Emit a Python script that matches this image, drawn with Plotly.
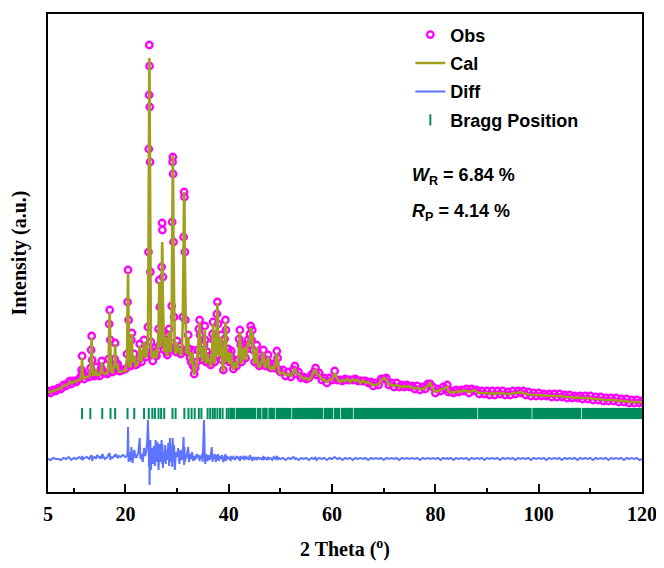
import plotly.graph_objects as go

# ---- data (intensity in arbitrary units) ----
two_theta = [
    5.0, 5.5, 6.0, 6.5, 7.0, 7.5, 8.0, 8.5, 9.0, 9.3, 9.5, 10.0, 10.5, 11.0, 11.4, 11.5, 11.6, 11.7, 12.0, 12.5,
    13.0, 13.25, 13.35, 13.45, 13.55, 13.7, 14.0, 14.3, 14.5, 15.0, 15.3, 15.4, 15.5, 16.0, 16.5, 16.75, 16.85, 16.95, 17.05, 17.2,
    17.5, 17.9, 18.0, 18.1, 18.5, 18.7, 19.0, 19.5, 20.0, 20.3, 20.4, 20.5, 20.6, 20.75, 21.0, 21.15, 21.25, 21.35, 21.7, 22.0,
    22.25, 22.5, 22.75, 22.9, 23.1, 23.35, 23.6, 23.8, 24.0, 24.2, 24.35, 24.45, 24.52, 24.58, 24.62, 24.66, 24.7, 24.75, 24.82, 24.92,
    25.1, 25.3, 25.5, 25.7, 25.85, 26.0, 26.2, 26.4, 26.55, 26.65, 26.75, 26.9, 27.0, 27.1, 27.15, 27.25, 27.35, 27.5, 27.7, 27.8,
    27.95, 28.1, 28.3, 28.45, 28.6, 28.8, 28.95, 29.05, 29.12, 29.17, 29.22, 29.3, 29.4, 29.55, 29.8, 30.0, 30.2, 30.45, 30.7, 30.9,
    31.1, 31.25, 31.35, 31.42, 31.5, 31.6, 31.75, 31.95, 32.15, 32.3, 32.5, 32.7, 32.9, 33.1, 33.3, 33.5, 33.8, 34.0, 34.2, 34.35,
    34.45, 34.6, 34.8, 34.95, 35.2, 35.35, 35.45, 35.6, 35.85, 36.05, 36.3, 36.5, 36.7, 36.85, 36.95, 37.05, 37.25, 37.5, 37.7, 37.8,
    37.9, 38.05, 38.3, 38.55, 38.7, 38.95, 39.2, 39.35, 39.45, 39.6, 39.9, 40.1, 40.35, 40.5, 40.65, 40.9, 41.2, 41.5, 41.8, 42.0,
    42.15, 42.3, 42.5, 42.8, 43.05, 43.25, 43.5, 43.7, 43.9, 44.1, 44.25, 44.4, 44.55, 44.7, 45.0, 45.2, 45.4, 45.6, 45.9, 46.2,
    46.5, 46.7, 46.85, 47.1, 47.4, 47.6, 47.8, 48.1, 48.4, 48.7, 49.0, 49.3, 49.45, 49.7, 50.0,
    50.5, 51.0, 51.5, 52.0, 52.5, 52.8, 53.0, 53.5, 54.0, 54.5, 55.0, 55.5, 56.0, 56.5, 56.8, 57.0, 57.5, 58.0, 58.5, 59.0,
    59.5, 60.0, 60.5, 61.0, 61.5, 62.0, 62.5, 63.0, 63.5, 64.0, 64.5, 65.0, 65.5, 66.0, 66.5, 67.0, 67.5, 68.0, 68.5, 69.0,
    69.5, 70.0, 70.5, 71.0, 71.5, 72.0, 72.5, 73.0, 73.5, 74.0, 74.5, 75.0, 75.5, 76.0, 76.5, 77.0, 77.5, 78.0, 78.5, 79.0,
    79.5, 80.0, 80.5, 81.0, 81.5, 82.0, 82.3, 82.5, 83.0, 83.5, 84.0, 84.5, 85.0, 85.5, 86.0, 86.5, 87.0, 87.5, 88.0, 88.5,
    89.0, 89.5, 90.0, 90.5, 91.0, 91.5, 92.0, 92.5, 93.0, 93.5, 94.0, 94.5, 95.0, 95.5, 96.0, 96.5, 97.0, 97.5, 98.0, 98.5,
    99.0, 99.5, 100.0, 100.5, 101.0, 101.5, 102.0, 102.5, 103.0, 103.5, 104.0, 104.5, 105.0, 105.5, 106.0, 106.5, 107.0, 107.5, 108.0, 108.5,
    109.0, 109.5, 110.0, 110.5, 111.0, 111.5, 112.0, 112.5, 113.0, 113.5, 114.0, 114.5, 115.0, 115.5, 116.0, 116.5, 117.0, 117.5, 118.0, 118.5,
    119.0, 119.5, 120.0,
]

cal = [
    100, 100, 101, 102, 103, 104, 106, 107, 108, 110, 109, 110, 111, 112, 113, 120, 134, 118, 114, 115,
    116, 122, 140, 154, 130, 117, 117, 123, 117, 117, 122, 130, 120, 118, 119, 130, 165, 180, 150, 121,
    119, 130, 148, 125, 126, 120, 120, 121, 121, 135, 185, 219, 170, 126, 125, 150, 158, 130, 136, 126,
    127, 130, 146, 135, 131, 140, 150, 136, 134, 142, 160, 230, 330, 400, 434, 420, 370, 300, 200, 145,
    136, 133, 138, 142, 135, 134, 140, 160, 210, 180, 145, 150, 200, 250, 240, 190, 150, 140, 148, 155,
    138, 136, 150, 160, 142, 140, 180, 260, 320, 337, 310, 240, 170, 142, 138, 149, 140, 144, 136, 140,
    170, 250, 300, 290, 230, 170, 140, 138, 155, 140, 132, 128, 140, 125, 117, 122, 128, 140, 160, 170,
    155, 134, 145, 130, 145, 163, 150, 128, 138, 130, 134, 125, 135, 155, 168, 150, 128, 140, 175, 189,
    165, 135, 145, 155, 130, 120, 150, 170, 160, 130, 140, 128, 135, 139, 128, 122, 130, 124, 130, 150,
    160, 145, 128, 140, 145, 132, 140, 150, 145, 155, 164, 150, 160, 140, 128, 138, 145, 128, 124, 128,
    132, 140, 130, 124, 130, 135, 125, 122, 126, 122, 126, 139, 132, 120, 118,
    120, 117, 118, 116, 120, 124, 119, 118, 115, 113, 114, 112, 115, 121, 122, 118, 117, 113, 112, 110,
    112, 113, 119, 113, 110, 112, 111, 113, 110, 113, 111, 112, 109, 112, 109, 110, 108, 107, 107, 108,
    111, 114, 112, 108, 107, 106, 107, 106, 105, 106, 105, 106, 104, 104, 104, 103, 103, 104, 106, 109,
    103, 100, 101, 102, 103, 104, 105, 101, 99, 100, 100, 101, 100, 102, 101, 100, 101, 102, 100, 99,
    99, 99, 99, 98, 99, 98, 99, 99, 99, 98, 98, 98, 99, 99, 99, 100, 99, 98, 98, 97,
    97, 97, 97, 97, 96, 97, 96, 96, 96, 96, 96, 96, 95, 95, 95, 95, 94, 95, 94, 94,
    94, 94, 94, 93, 93, 93, 93, 92, 92, 92, 92, 92, 92, 91, 91, 91, 91, 90, 90, 90,
    90, 90, 90,
]

obs = [
    101, 99, 102, 101, 104, 103, 107, 106, 110, 111, 108, 111, 110, 113, 116, 122, 136, 120, 113, 116,
    115, 124, 142, 156, 132, 118, 116, 125, 118, 116, 124, 131, 121, 119, 118, 133, 168, 182, 152, 122,
    120, 133, 149, 127, 128, 121, 121, 122, 123, 138, 190, 222, 172, 128, 126, 152, 159, 132, 138, 127,
    128, 132, 148, 137, 130, 143, 152, 138, 135, 145, 165, 240, 343, 397, 447, 426, 385, 330, 220, 150,
    138, 131, 140, 144, 137, 136, 142, 163, 212, 185, 148, 160, 225, 269, 262, 215, 160, 142, 151, 158,
    140, 137, 152, 163, 144, 143, 186, 270, 330, 335, 318, 250, 175, 145, 140, 151, 142, 146, 138, 142,
    175, 255, 300, 295, 240, 172, 142, 140, 157, 143, 134, 130, 142, 126, 118, 124, 130, 142, 163, 172,
    157, 136, 148, 132, 147, 166, 152, 130, 140, 132, 136, 127, 137, 158, 170, 152, 130, 142, 178, 190,
    168, 137, 147, 157, 132, 122, 153, 172, 162, 132, 143, 130, 137, 141, 130, 123, 132, 126, 132, 153,
    162, 147, 130, 142, 147, 134, 143, 152, 147, 158, 166, 152, 162, 142, 130, 140, 147, 130, 126, 130,
    134, 142, 132, 126, 132, 137, 127, 124, 128, 124, 128, 141, 134, 122, 120,
    122, 116, 120, 115, 122, 126, 118, 120, 114, 115, 113, 114, 117, 120, 124, 117, 119, 112, 114, 109,
    114, 112, 121, 112, 112, 111, 113, 112, 112, 112, 113, 111, 111, 111, 111, 109, 110, 106, 109, 107,
    113, 113, 114, 107, 109, 105, 109, 105, 107, 105, 107, 105, 106, 103, 106, 102, 105, 103, 108, 108,
    105, 99, 103, 101, 105, 103, 107, 100, 101, 99, 102, 100, 102, 101, 103, 99, 103, 101, 102, 98,
    101, 98, 101, 97, 101, 97, 101, 98, 101, 97, 100, 97, 101, 98, 101, 99, 101, 97, 100, 96,
    99, 96, 99, 96, 98, 96, 98, 95, 98, 95, 98, 95, 97, 94, 97, 94, 96, 94, 96, 93,
    96, 93, 96, 92, 95, 92, 95, 91, 94, 91, 94, 91, 94, 90, 93, 90, 93, 89, 92, 89,
    92, 89, 91,
]

diff = [
    33, 32, 34, 33, 33, 32, 34, 33, 35, 33, 32, 34, 33, 35, 34, 33, 36, 32, 34, 35,
    33, 36, 34, 37, 31, 34, 35, 33, 37, 34, 36, 33, 38, 33, 35, 38, 36, 39, 32, 35,
    34, 37, 35, 38, 34, 36, 35, 37, 35, 36, 40, 65, 30, 40, 31, 45, 38, 29, 42, 34,
    36, 40, 54, 33, 38, 30, 44, 36, 40, 50, 72, 45, 60, 25, 48, 7, 40, 30, 52, 22,
    44, 28, 46, 26, 52, 30, 50, 22, 48, 35, 30, 45, 52, 28, 48, 24, 40, 30, 47, 28,
    42, 32, 49, 26, 54, 30, 46, 25, 54, 28, 44, 30, 47, 22, 40, 35, 44, 28, 42, 32,
    40, 55, 27, 45, 30, 38, 33, 40, 45, 30, 38, 33, 40, 31, 36, 32, 38, 34, 37, 31,
    36, 33, 38, 30, 72, 36, 28, 38, 31, 37, 32, 36, 45, 30, 36, 33, 38, 30, 37, 32,
    38, 31, 36, 33, 37, 30, 35, 38, 31, 36, 33, 35, 31, 36, 33, 35, 32, 36, 33, 35,
    31, 36, 33, 35, 32, 36, 33, 35, 32, 37, 33, 35, 31, 35, 33, 34, 32, 35, 33, 34,
    32, 36, 33, 34, 32, 35, 33, 34, 32, 35, 33, 36, 32, 34, 33,
    34, 32, 34, 33, 35, 33, 34, 32, 34, 33, 34, 32, 34, 33, 35, 32, 34, 33, 34, 32,
    34, 33, 35, 33, 34, 32, 34, 33, 34, 32, 34, 33, 34, 33, 34, 32, 34, 33, 34, 33,
    34, 32, 34, 33, 34, 33, 34, 32, 34, 33, 34, 33, 34, 33, 34, 32, 34, 33, 34, 33,
    34, 33, 34, 32, 34, 33, 34, 33, 34, 32, 34, 33, 34, 33, 34, 32, 34, 33, 34, 33,
    34, 32, 34, 33, 34, 33, 34, 32, 34, 33, 34, 33, 34, 32, 34, 33, 34, 33, 34, 32,
    34, 33, 34, 33, 34, 32, 34, 33, 34, 33, 34, 32, 34, 33, 34, 33, 34, 32, 34, 33,
    34, 33, 34, 32, 34, 33, 34, 33, 34, 32, 34, 33, 34, 33, 34, 32, 34, 33, 34, 33,
    34, 32, 33,
]

bragg_pos = [
    11.6, 13.2, 15.5, 17.1, 18.0, 20.4, 21.7, 23.6, 24.5, 25.2, 25.7, 26.4, 26.9, 27.5, 29.1, 29.7,
    31.4, 32.2, 32.8, 33.4, 34.2, 34.7, 35.9, 36.4, 36.9, 37.3, 37.8, 38.3, 38.8, 39.6, 40.0, 40.4,
    40.75, 41.75, 42.45, 43.15, 43.85, 44.5, 44.9, 45.9, 46.9, 47.1, 48.1, 48.5, 49.5, 50.2, 50.9, 51.7,
    52.7, 53.4, 54.1, 54.8, 55.5, 56.2, 56.9, 57.4, 57.8, 58.8, 59.3, 59.8, 60.8, 61.1, 62.1, 62.8,
    63.2, 63.6, 64.6, 65.3, 66.0, 66.7, 67.4, 68.1, 68.8, 69.5, 70.2, 70.9, 71.6, 72.3, 73.0, 73.7,
    74.4, 75.1, 75.8, 76.5, 77.2, 77.9, 78.6, 79.3, 80.0, 80.7, 81.4, 82.1, 82.8, 83.5, 84.2, 84.9,
    85.6, 86.3, 87.0, 87.7, 88.7, 89.4, 90.1, 90.8, 91.5, 92.2, 92.9, 93.6, 94.3, 95.0, 95.7, 96.4,
    97.1, 97.8, 98.2, 99.2, 99.9, 100.6, 101.3, 102.0, 102.7, 103.4, 104.1, 104.8, 105.5, 106.2, 106.9, 107.4,
    107.8, 108.8, 109.5, 110.2, 110.9, 111.6, 112.3, 113.0, 113.7, 114.4, 115.1, 115.8, 116.5, 117.2, 117.9, 118.6,
    119.3, 119.9,
]

x_ticks = [5, 20, 40, 60, 80, 100, 120]
x_minor_ticks = [10, 30, 50, 70, 90, 110]

# ---- styling ----
C_OBS = "#FF00FF"
C_CAL = "#A29E1E"
C_DIFF = "#5C74FF"
C_BRAGG = "#008C5E"
BRAGG_LEVEL = 78.5
DENSE_FROM = 40.5   # above this angle the reflections merge into a solid band
bragg_sparse = [p for p in bragg_pos if p < DENSE_FROM]
bragg_dense = [p for p in bragg_pos if p >= DENSE_FROM]

SERIF = "Liberation Serif, Times New Roman, serif"
SANS = "Liberation Sans, Arial, sans-serif"

fig = go.Figure()
fig.add_trace(go.Scatter(
    x=two_theta, y=obs, mode="markers", name="Obs", legendgroup="a",
    marker=dict(symbol="circle-open", size=6.5, color=C_OBS, line=dict(width=2.3, color=C_OBS)),
))
fig.add_trace(go.Scatter(
    x=two_theta, y=cal, mode="lines", name="Cal", legendgroup="b",
    line=dict(color=C_CAL, width=2.6),
))
fig.add_trace(go.Scatter(
    x=two_theta, y=diff, mode="lines", name="Diff", legendgroup="c",
    line=dict(color=C_DIFF, width=2),
))
fig.add_trace(go.Scatter(
    x=bragg_sparse, y=[BRAGG_LEVEL] * len(bragg_sparse), mode="markers", name="Bragg Position", legendgroup="d",
    marker=dict(symbol="line-ns", size=8, color=C_BRAGG, line=dict(width=2, color=C_BRAGG)),
))
fig.add_trace(go.Scatter(
    x=bragg_dense, y=[BRAGG_LEVEL] * len(bragg_dense), mode="markers", name="Bragg Position", legendgroup="d",
    showlegend=False,
    marker=dict(symbol="line-ns", size=8, color=C_BRAGG, line=dict(width=4.5, color=C_BRAGG)),
))

# the page body adds an 8 px offset, so the figure is sized to fit the window
fig.update_layout(
    width=656, height=560,
    margin=dict(l=40, r=22, t=6, b=76, autoexpand=False),
    paper_bgcolor="white", plot_bgcolor="white",
    showlegend=True,
    legend=dict(
        x=0.61, y=0.995, xanchor="left", yanchor="top",
        bgcolor="rgba(0,0,0,0)", borderwidth=0,
        font=dict(family=SANS, size=18, color="black", weight="bold"),
        traceorder="grouped", tracegroupgap=2,
    ),
    xaxis=dict(
        range=[5, 120], tickmode="array", tickvals=x_ticks, ticktext=[str(v) for v in x_ticks],
        ticks="inside", ticklen=8, tickwidth=2, tickcolor="black",
        minor=dict(tickmode="array", tickvals=x_minor_ticks, ticks="inside", ticklen=4, tickwidth=2, tickcolor="black"),
        showline=True, linewidth=2, linecolor="black", mirror=True,
        showgrid=False, zeroline=False, automargin=False, ticklabelstandoff=3,
        tickfont=dict(family=SERIF, size=20, color="black", weight="bold"),
        title=dict(text="2 Theta (<sup>o</sup>)", font=dict(family=SERIF, size=20, color="black", weight="bold"), standoff=18),
    ),
    yaxis=dict(
        range=[0, 478], showticklabels=False, ticks="",
        showline=True, linewidth=2, linecolor="black", mirror=True,
        showgrid=False, zeroline=False, automargin=False,
        title=dict(text="Intensity (a.u.)", font=dict(family=SERIF, size=20, color="black", weight="bold"), standoff=14),
    ),
    annotations=[
        dict(xref="paper", yref="paper", x=0.609, y=0.659, xanchor="left", yanchor="middle", showarrow=False,
             text="<b><i>W</i></b><sub><b>R</b></sub><b> = 6.84 %</b>",
             font=dict(family=SANS, size=18, color="black")),
        dict(xref="paper", yref="paper", x=0.609, y=0.584, xanchor="left", yanchor="middle", showarrow=False,
             text="<b><i>R</i></b><sub><b>P</b></sub><b> = 4.14 %</b>",
             font=dict(family=SANS, size=18, color="black")),
    ],
)

fig.write_html("out.html")
